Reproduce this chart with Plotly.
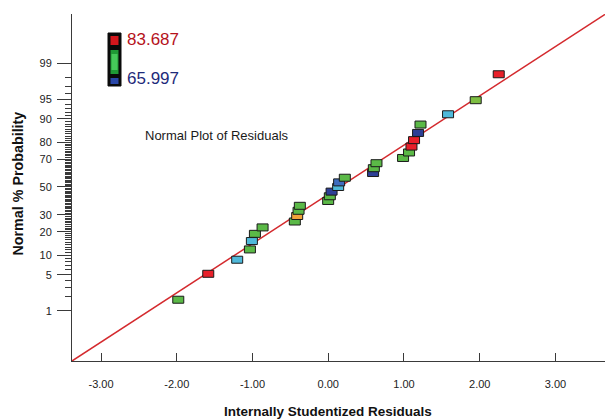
import plotly.graph_objects as go
from statistics import NormalDist

# Internally studentized residuals (sorted) and their normal-probability plotting positions (%)
residuals = [-1.980, -1.584, -1.202, -1.034, -1.008, -0.968, -0.867, -0.441, -0.410,
             -0.392, -0.375, -0.001, 0.021, 0.044, 0.131, 0.144, 0.219, 0.592,
             0.602, 0.637, 0.988, 1.067, 1.099, 1.133, 1.186, 1.218, 1.582,
             1.947, 2.251]
probability_pct = [1.72, 5.17, 8.62, 12.07, 15.52, 18.97, 22.41, 25.86, 29.31,
                   32.76, 36.21, 39.66, 43.10, 46.55, 50.00, 53.45, 56.90, 60.34,
                   63.79, 67.24, 70.69, 74.14, 77.59, 81.03, 84.48, 87.93, 91.38,
                   94.83, 98.28]
# Response-level bin of each run (colour key)
response_level = ["green", "red", "cyan", "green", "cyan", "green", "green", "green", "orange",
                  "green", "green", "green", "green", "navy", "cyan", "blue", "green", "navy",
                  "green", "green", "green", "green", "red", "red", "navy", "green", "cyan",
                  "lime", "red"]

# Reference normal line
fit_line_resid = [-3.383, 3.654]
fit_line_pct = [0.0547, 99.940]

# Axis ticks
x_ticks = [-3, -2, -1, 0, 1, 2, 3]
x_tick_text = ["-3.00", "-2.00", "-1.00", "0.00", "1.00", "2.00", "3.00"]
y_major_pct = [1, 5, 10, 20, 30, 50, 70, 80, 90, 95, 99]
y_minor_pct = [2, 3, 4, 6, 7, 8, 9] + list(range(11, 20)) + list(range(21, 30)) \
    + list(range(31, 50)) + list(range(51, 70)) + list(range(71, 80)) \
    + list(range(81, 90)) + [91, 92, 93, 94, 96, 97, 98]

# Colour legend limits
response_max = "83.687"
response_min = "65.997"

palette = {
    "green": "#5BB947", "lime": "#7DBE42", "red": "#E8202A", "cyan": "#4FB9DA",
    "orange": "#F2A33A", "blue": "#3F6DBF", "navy": "#2D3F96",
}

nd = NormalDist()


def probit(pct):
    return nd.inv_cdf(pct / 100.0)


FONT = "Arial, Liberation Sans, sans-serif"
AXIS_COLOR = "#3a3a3a"

fig = go.Figure()

fig.add_trace(go.Scatter(
    x=fit_line_resid, y=[probit(p) for p in fit_line_pct],
    mode="lines", line=dict(color="#D42A2E", width=1.5),
    hoverinfo="skip", showlegend=False,
))

pz = [probit(p) for p in probability_pct]
fig.add_trace(go.Scatter(
    x=residuals, y=pz, mode="markers",
    marker=dict(size=9, opacity=0),
    customdata=probability_pct,
    hovertemplate="Residual %{x:.2f}<br>%{customdata:.1f}%<extra></extra>",
    showlegend=False,
))

# Rectangular markers anchored on each data point
shapes = []
for xr, z, lvl in zip(residuals, pz, response_level):
    shapes.append(dict(
        type="rect", xref="x", yref="y",
        xsizemode="pixel", ysizemode="pixel",
        xanchor=xr, yanchor=z, x0=-5.5, x1=5.5, y0=-3.5, y1=3.5,
        fillcolor=palette[lvl], line=dict(color="#1a1a1a", width=1),
        layer="above",
    ))


# Colour-key bar (pixel positions converted to paper coordinates)
def px(xp):
    return (xp - 72) / 533.0


def py(yp):
    return (361 - yp) / 347.0


shapes += [
    dict(type="rect", xref="paper", yref="paper", x0=px(108), x1=px(121), y0=py(86), y1=py(33),
         fillcolor="#0a0a0a", line=dict(color="#0a0a0a", width=1)),
    dict(type="rect", xref="paper", yref="paper", x0=px(110.5), x1=px(118.5), y0=py(45), y1=py(36),
         fillcolor="#D3161C", line=dict(width=0)),
    dict(type="rect", xref="paper", yref="paper", x0=px(110.5), x1=px(118.5), y0=py(74), y1=py(50),
         fillcolor="#1F9A35", line=dict(width=0)),
    dict(type="rect", xref="paper", yref="paper", x0=px(111.5), x1=px(117.5), y0=py(70), y1=py(54),
         fillcolor="#46C95A", line=dict(width=0)),
    dict(type="rect", xref="paper", yref="paper", x0=px(110.5), x1=px(118.5), y0=py(84), y1=py(78),
         fillcolor="#2846A8", line=dict(width=0)),
]

annotations = [
    dict(text=response_max, x=px(125), y=py(40), xref="paper", yref="paper",
         xanchor="left", yanchor="middle", showarrow=False,
         font=dict(family=FONT, size=17, color="#B5121B")),
    dict(text=response_min, x=px(125), y=py(78), xref="paper", yref="paper",
         xanchor="left", yanchor="middle", showarrow=False,
         font=dict(family=FONT, size=17, color="#1E2A7A")),
    dict(text="Normal Plot of Residuals", x=px(216.5), y=py(135), xref="paper", yref="paper",
         xanchor="center", yanchor="middle", showarrow=False,
         font=dict(family=FONT, size=13, color="#1a1a1a")),
    dict(text="<b>Internally Studentized Residuals</b>", x=px(328), y=py(411),
         xref="paper", yref="paper", xanchor="center", yanchor="middle", showarrow=False,
         font=dict(family=FONT, size=13.5, color="#111")),
    dict(text="<b>Normal % Probability</b>", x=px(17), y=py(183.5), textangle=-90,
         xref="paper", yref="paper", xanchor="center", yanchor="middle", showarrow=False,
         font=dict(family=FONT, size=14.3, color="#111")),
]

fig.update_layout(
    width=605, height=419,
    margin=dict(l=72, r=0, t=14, b=58, pad=0),
    paper_bgcolor="white", plot_bgcolor="white",
    showlegend=False,
    shapes=shapes, annotations=annotations,
    font=dict(family=FONT, color="#222"),
    xaxis=dict(
        range=[-3.383, 3.654], showgrid=False, zeroline=False,
        showline=True, linecolor=AXIS_COLOR, linewidth=1,
        ticks="inside", ticklen=8, tickwidth=1, tickcolor=AXIS_COLOR,
        tickmode="array", tickvals=x_ticks, ticktext=x_tick_text,
        tickfont=dict(family=FONT, size=11, color="#222"),
        ticklabelstandoff=13,
    ),
    yaxis=dict(
        range=[-3.265, 3.246], showgrid=False, zeroline=False,
        showline=True, linecolor=AXIS_COLOR, linewidth=1,
        ticks="outside", ticklen=14, tickwidth=1, tickcolor=AXIS_COLOR,
        tickmode="array", tickvals=[probit(p) for p in y_major_pct],
        ticktext=[str(p) for p in y_major_pct],
        tickfont=dict(family=FONT, size=11, color="#222"),
        ticklabelstandoff=3,
        minor=dict(tickmode="array", tickvals=[probit(p) for p in y_minor_pct],
                   ticks="outside", ticklen=6, tickwidth=1, tickcolor=AXIS_COLOR,
                   showgrid=False),
    ),
)

fig.write_html("out.html")
